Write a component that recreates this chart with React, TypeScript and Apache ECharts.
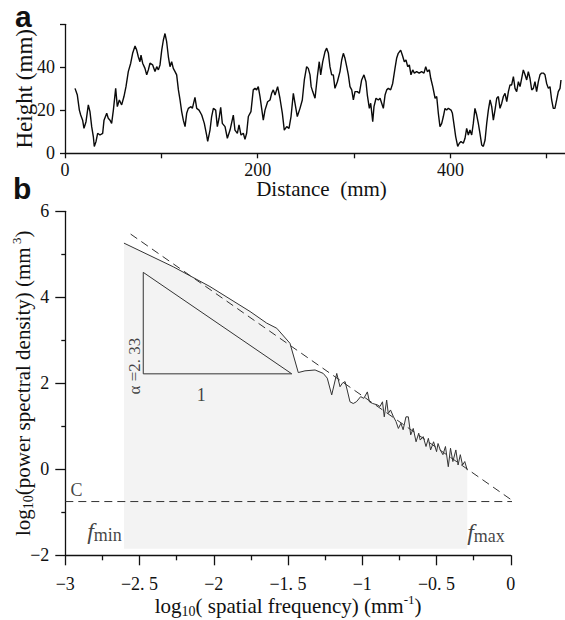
import React, { useEffect, useRef } from 'react';
import * as echarts from 'echarts';

// Panel a: surface profile
const profileDistance = [
  10.4, 12.8, 14.9, 16.3, 18.3, 19.7, 21.8, 24.2, 25.9, 27.7, 29.4, 30.4, 32.2, 33.9, 36.3, 39.1, 40.5, 43.3, 44.9, 46.7,
  48.4, 50.2, 52.6, 54.3, 56.4, 58.8, 61.2, 63.3, 65.7, 68.2, 70.2, 72.7, 74.4, 76.1, 77.8, 78.9, 80.6, 83.0, 84.8, 86.5,
  88.2, 91.0, 93.4, 95.2, 96.9, 98.6, 100.4, 102.1, 103.8, 105.5, 107.3, 109.0, 110.7, 112.4, 114.2, 115.9, 117.7, 119.4, 121.1, 122.8,
  124.6, 126.3, 128.0, 130.8, 132.2, 134.9, 136.7, 139.1, 141.9, 144.6, 147.0, 148.1, 150.5, 152.2, 154.0, 156.4, 158.1, 159.9, 161.6, 163.3,
  166.1, 168.5, 171.3, 174.7, 176.4, 178.9, 180.6, 182.7, 185.1, 186.8, 188.5, 190.3, 193.0, 195.4, 197.2, 198.9, 200.6, 202.4, 204.1, 205.8,
  207.6, 210.3, 212.8, 214.5, 216.2, 218.0, 220.7, 223.1, 225.6, 227.6, 230.1, 232.5, 234.6, 237.0, 238.7, 241.1, 243.9, 246.3, 248.4, 250.8,
  252.5, 254.3, 255.5, 257.1, 259.5, 261.9, 263.9, 265.4, 267.5, 269.9, 271.6, 273.4, 275.0, 276.8, 278.5, 280.2, 282.7, 285.4, 287.2, 288.9,
  290.6, 292.4, 294.1, 295.8, 297.6, 299.3, 301.0, 303.4, 305.5, 307.9, 310.3, 312.4, 313.8, 315.9, 317.3, 319.4, 320.7, 322.8, 325.2, 327.0,
  328.7, 330.4, 332.2, 333.9, 335.6, 338.0, 340.1, 342.5, 344.2, 345.9, 348.4, 350.1, 352.2, 353.9, 355.7, 357.4, 359.1, 360.9, 362.6, 365.0,
  367.6, 370.1, 372.6, 374.4, 376.1, 378.2, 379.6, 381.7, 384.1, 385.8, 387.5, 389.2, 391.0, 392.7, 394.4, 396.1, 397.9, 400.7, 402.1, 403.8,
  405.5, 407.6, 409.3, 411.0, 413.4, 415.2, 416.9, 418.6, 420.3, 422.1, 423.8, 425.5, 427.3, 429.0, 430.7, 432.5, 434.2, 436.0, 437.7, 439.4,
  441.2, 442.9, 444.6, 446.3, 448.1, 449.8, 451.5, 453.3, 455.0, 456.7, 458.5, 460.2, 461.9, 463.6, 465.4, 467.1, 468.8, 470.6, 472.3, 474.0,
  475.7, 477.5, 479.2, 480.9, 482.6, 484.4, 486.1, 487.8, 489.5, 491.3, 493.0, 494.7, 496.5, 498.2, 499.9, 501.7, 503.4, 505.1, 506.8, 508.5,
  510.3, 512.0, 513.8, 514.8,
];
const profileHeight = [
  30.2, 27.1, 20.1, 17.8, 15.4, 11.6, 14.7, 22.5, 19.4, 12.4, 7.8, 3.2, 5.5, 9.3, 8.5, 9.3, 15.4, 18.6, 16.3, 15.4,
  13.9, 20.1, 30.2, 21.7, 24.8, 22.5, 26.4, 31.0, 38.0, 41.9, 46.5, 49.9, 48.0, 44.9, 42.6, 45.7, 41.9, 39.5, 36.5, 38.8,
  41.9, 41.1, 38.0, 40.3, 38.8, 41.1, 48.0, 52.7, 55.7, 51.9, 44.9, 40.3, 42.6, 39.5, 38.0, 36.5, 29.5, 24.8, 19.4, 15.4,
  12.4, 18.6, 20.9, 21.7, 20.9, 26.0, 20.9, 20.1, 17.8, 13.9, 8.5, 5.5, 10.8, 17.1, 20.9, 20.1, 12.4, 16.3, 21.4, 13.9,
  12.4, 7.0, 10.8, 17.8, 10.8, 9.3, 13.2, 8.5, 9.3, 6.5, 9.3, 17.1, 19.4, 29.5, 30.2, 29.5, 31.0, 26.4, 20.9, 15.4,
  20.1, 24.0, 24.8, 27.9, 29.5, 27.1, 31.0, 25.6, 18.6, 10.8, 12.4, 11.6, 17.1, 27.9, 23.3, 17.1, 20.9, 24.8, 34.1, 40.3,
  39.5, 36.5, 31.0, 28.7, 25.6, 35.6, 42.6, 36.5, 42.6, 47.3, 48.9, 46.5, 40.3, 36.5, 36.5, 30.2, 33.3, 38.0, 43.4, 46.5,
  44.2, 40.3, 36.5, 31.0, 29.5, 24.8, 28.7, 28.7, 27.9, 34.1, 36.5, 33.3, 27.1, 20.9, 23.3, 14.7, 21.7, 25.6, 24.8, 25.6,
  23.3, 20.9, 27.1, 29.5, 30.2, 29.5, 32.5, 39.5, 44.2, 46.5, 48.0, 45.7, 42.6, 43.4, 40.3, 41.1, 36.5, 38.8, 37.3, 38.0,
  37.3, 38.0, 37.3, 40.3, 38.0, 38.8, 34.9, 31.0, 25.6, 26.4, 18.6, 12.4, 13.9, 17.1, 20.9, 20.1, 20.9, 20.1, 18.6, 13.2,
  7.8, 3.2, 4.7, 5.5, 4.7, 7.0, 11.6, 8.5, 10.8, 8.5, 13.9, 20.9, 17.8, 13.9, 9.3, 3.9, 3.2, 6.2, 13.9, 20.1,
  24.8, 21.7, 15.4, 20.1, 25.6, 26.4, 20.9, 23.3, 26.4, 27.9, 24.0, 28.7, 31.8, 31.8, 35.7, 30.2, 28.7, 33.3, 31.0, 34.9,
  38.8, 36.5, 34.1, 38.0, 34.9, 29.5, 30.2, 33.3, 28.7, 33.3, 36.5, 37.3, 37.3, 36.5, 32.5, 30.2, 31.0, 24.8, 20.9, 20.9,
  24.8, 28.7, 30.2, 34.1,
];

// Panel b: power spectrum (log10 f, log10 P)
const spectrumLogF = [
  -2.605, -2.273, -2.026, -1.756, -1.644, -1.576, -1.487, -1.431, -1.386, -1.318, -1.263, -1.236, -1.206, -1.172, -1.15, -1.135,
  -1.116, -1.1, -1.083, -1.061, -1.04, -1.011, -0.99, -0.966, -0.952, -0.93, -0.9, -0.881, -0.864, -0.852, -0.836, -0.825,
  -0.81, -0.79, -0.773, -0.757, -0.74, -0.725, -0.706, -0.69, -0.674, -0.657, -0.638, -0.62, -0.61, -0.59, -0.571, -0.555,
  -0.54, -0.52, -0.5, -0.49, -0.475, -0.457, -0.44, -0.421, -0.406, -0.39, -0.37, -0.355, -0.34, -0.325, -0.31, -0.293,
];
const spectrumLogP = [
  5.26, 4.71, 4.25, 3.67, 3.4, 3.28, 2.93, 2.25, 2.29, 2.31, 2.23, 2.12, 1.73, 2.23, 1.92, 2.0,
  2.04, 1.82, 1.57, 1.53, 1.57, 1.69, 1.65, 1.8, 1.57, 1.53, 1.5, 1.46, 1.57, 1.22, 1.61, 1.3,
  1.38, 1.22, 1.11, 0.95, 1.07, 0.92, 1.22, 1.22, 0.8, 0.95, 0.64, 0.84, 0.68, 0.76, 0.53, 0.72,
  0.45, 0.64, 0.41, 0.6, 0.45, 0.34, 0.53, 0.06, 0.49, 0.18, 0.45, 0.1, 0.34, 0.1, 0.18, -0.02,
];
const fitLogF = [-2.56, 0.07];
const fitLogP = [5.47, -0.87];
const cutoffLogF = [-3, 0.07];
const cutoffLogP = [-0.75, -0.75];
const triangleLogF = [-2.475, -2.475, -1.475, -2.475];
const triangleLogP = [4.58, 2.22, 2.22, 4.58];
const shadeFloor = -1.85;

const SERIF = 'Liberation Serif';
const INK = '#111';

function bottomXLabel(v: number): string {
  if (v === 0) return '0';
  const s = String(Math.abs(v)).replace('.', '. ');
  return (v < 0 ? '\u2212' : '') + s;
}
function bottomYLabel(v: number): string {
  return v < 0 ? '\u2212' + Math.abs(v) : String(v);
}

export default function App() {
  const ref = useRef<HTMLDivElement>(null);
  useEffect(() => {
    if (!ref.current) return;
    const chart = echarts.init(ref.current, undefined, { renderer: 'svg' });
    const axisLine = { onZero: false, lineStyle: { color: INK, width: 1.3 } };
    const labelStyle = { color: INK, fontFamily: SERIF, fontSize: 18 };
    const subRich = {
      sub: { fontSize: 14, fontFamily: SERIF, color: INK, verticalAlign: 'bottom', lineHeight: 13 },
      sup: { fontSize: 13, fontFamily: SERIF, color: INK, verticalAlign: 'top', lineHeight: 13 },
    };
    const zip = (a: number[], b: number[]) => a.map((v, i) => [v, b[i]]);
    const fRich = {
      f: { fontFamily: SERIF, fontStyle: 'italic', fontSize: 24, color: INK, lineHeight: 26 },
      s: { fontFamily: SERIF, fontSize: 18, color: INK, verticalAlign: 'bottom', lineHeight: 22 },
    };

    chart.setOption({
      animation: false,
      backgroundColor: '#fff',
      textStyle: { fontFamily: SERIF, color: INK },
      title: [
        { text: 'a', left: 10, top: -4, textStyle: { fontFamily: 'Liberation Sans', fontWeight: 'bold', fontSize: 30, color: INK } },
        { text: 'b', left: 8, top: 168, textStyle: { fontFamily: 'Liberation Sans', fontWeight: 'bold', fontSize: 30, color: INK } },
      ],
      grid: [
        { left: 65, top: 24.3, width: 501, height: 129, outerBoundsMode: 'none', containLabel: false },
        { left: 65.3, top: 211.3, width: 445.5, height: 344, outerBoundsMode: 'none', containLabel: false },
      ],
      xAxis: [
        {
          type: 'value', gridIndex: 0, min: 0, max: 520, interval: 100,
          axisLine, axisTick: { length: 5, lineStyle: { color: INK, width: 1.3 } },
          axisLabel: { ...labelStyle, lineHeight: 16, margin: 9, formatter: (v: number) => (v % 200 === 0 ? String(v) : '') },
          splitLine: { show: false },
          name: 'Distance  (mm)', nameLocation: 'middle', nameGap: 25, nameMoveOverlap: false,
          nameTextStyle: { fontFamily: SERIF, fontSize: 21, lineHeight: 22, color: INK, padding: [0, 0, 0, 12] },
        },
        {
          type: 'value', gridIndex: 1, min: -3, max: 0, interval: 0.5,
          axisLine, axisTick: { length: 10, lineStyle: { color: INK, width: 1.3 } },
          minorTick: { show: true, splitNumber: 2, length: 5, lineStyle: { color: INK, width: 1.3 } },
          axisLabel: { ...labelStyle, lineHeight: 16, margin: 21, formatter: bottomXLabel },
          splitLine: { show: false },
          name: 'log{sub|10}( spatial frequency) (mm{sup|-1})', nameLocation: 'middle', nameGap: 38, nameMoveOverlap: false,
          nameTextStyle: { fontFamily: SERIF, fontSize: 21, color: INK, lineHeight: 25, rich: subRich },
        },
      ],
      yAxis: [
        {
          type: 'value', gridIndex: 0, min: 0, max: 60, interval: 20,
          axisLine, axisTick: { length: 5, lineStyle: { color: INK, width: 1.3 } },
          axisLabel: { ...labelStyle, margin: 10, formatter: (v: number) => (v === 60 ? '' : String(v)) },
          splitLine: { show: false },
          name: 'Height (mm)', nameLocation: 'middle', nameRotate: 90, nameGap: 29, nameMoveOverlap: false,
          nameTextStyle: { fontFamily: SERIF, fontSize: 23, color: INK },
        },
        {
          type: 'value', gridIndex: 1, min: -2, max: 6, interval: 2,
          axisLine, axisTick: { length: 10, lineStyle: { color: INK, width: 1.3 } },
          minorTick: { show: true, splitNumber: 2, length: 4, lineStyle: { color: INK, width: 1.3 } },
          axisLabel: { ...labelStyle, margin: 16, formatter: bottomYLabel },
          splitLine: { show: false },
          name: 'log{sub|10}(power spectral density) (mm{sup| 3})', nameLocation: 'middle', nameRotate: 90, nameGap: 30, nameMoveOverlap: false,
          nameTextStyle: { fontFamily: SERIF, fontSize: 21, color: INK, lineHeight: 25, rich: subRich },
        },
      ],
      series: [
        {
          type: 'line', xAxisIndex: 0, yAxisIndex: 0, data: zip(profileDistance, profileHeight),
          showSymbol: false, lineStyle: { color: '#0a0a0a', width: 1.4 },
        },
        {
          type: 'line', xAxisIndex: 1, yAxisIndex: 1, data: zip(spectrumLogF, spectrumLogP), z: 1,
          showSymbol: false, lineStyle: { color: '#333', width: 1 },
          areaStyle: { color: '#f3f3f3', opacity: 1, origin: shadeFloor },
        },
        {
          type: 'line', xAxisIndex: 1, yAxisIndex: 1, data: zip(triangleLogF, triangleLogP), z: 3,
          showSymbol: false, clip: false, lineStyle: { color: '#333', width: 1 },
        },
        {
          type: 'line', xAxisIndex: 1, yAxisIndex: 1, data: zip(fitLogF, fitLogP), z: 3,
          showSymbol: false, clip: false, lineStyle: { color: '#333', width: 1, type: [8, 5] },
        },
        {
          type: 'line', xAxisIndex: 1, yAxisIndex: 1, data: zip(cutoffLogF, cutoffLogP), z: 3,
          showSymbol: false, clip: false, lineStyle: { color: '#333', width: 1, type: [8, 5] },
        },
        {
          type: 'scatter', xAxisIndex: 1, yAxisIndex: 1, symbolSize: 1, silent: true, clip: false, z: 10,
          itemStyle: { color: 'rgba(0,0,0,0)' },
          data: [
            { value: [-2.925, -0.48], label: { show: true, position: 'inside', formatter: 'C', fontFamily: SERIF, fontSize: 18, color: INK } },
            { value: [-2.856, -1.44], label: { show: true, position: 'right', distance: 0, formatter: '{f|f}{s|min}', rich: fRich } },
            { value: [-0.297, -1.46], label: { show: true, position: 'right', distance: 0, formatter: '{f|f}{s|max}', rich: fRich } },
            { value: [-2.537, 2.4], label: { show: true, position: 'inside', rotate: 90, formatter: '\u03b1 =2. 33', fontFamily: SERIF, fontSize: 17, color: INK } },
            { value: [-2.085, 1.73], label: { show: true, position: 'inside', formatter: '1', fontFamily: SERIF, fontSize: 18, color: INK } },
          ],
        },
      ],
    });
    return () => chart.dispose();
  }, []);
  return <div ref={ref} style={{ position: 'absolute', left: 0, top: 0, width: 565, height: 620 }} />;
}
